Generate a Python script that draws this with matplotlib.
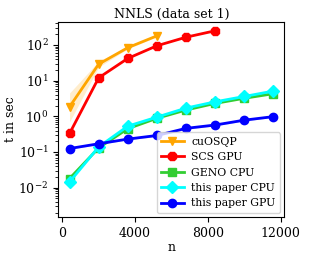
import matplotlib
matplotlib.use("Agg")
import matplotlib.pyplot as plt
import numpy as np

plt.rcParams['font.family'] = ['DejaVu Serif']

n_all = [400, 2000, 3600, 5200, 6800, 8400, 10000, 11600]
n_osqp = [400, 2000, 3600, 5200]
t_osqp = [1.85, 29, 84, 180]
t_osqp_lo = [0.7, 24, 78, 170]
t_osqp_hi = [4.5, 35, 92, 195]
n_scs = [400, 2000, 3600, 5200, 6800, 8400]
t_scs = [0.33, 12, 42, 95, 165, 250]
t_geno = [0.018, 0.13, 0.45, 0.88, 1.5, 2.3, 3.2, 4.3]
t_cpu = [0.0145, 0.139, 0.53, 0.95, 1.7, 2.55, 3.6, 5.1]
t_cpu_lo = [0.0135, 0.13, 0.5, 0.9, 1.6, 2.4, 3.4, 4.8]
t_cpu_hi = [0.0155, 0.15, 0.58, 1.02, 1.85, 2.75, 3.9, 5.5]
t_gpu = [0.125, 0.17, 0.23, 0.29, 0.46, 0.57, 0.78, 0.98]
t_gpu_lo = [0.12, 0.16, 0.22, 0.27, 0.43, 0.54, 0.74, 0.93]
t_gpu_hi = [0.13, 0.18, 0.245, 0.31, 0.49, 0.60, 0.82, 1.03]

fig = plt.figure(figsize=(3.1, 2.59), dpi=100)
ax = fig.add_axes([0.188, 0.162, 0.729, 0.753])

lw = 2
ms = 6
ax.fill_between(n_osqp, t_osqp_lo, t_osqp_hi, color='orange', alpha=0.2, lw=0)
ax.plot(n_osqp, t_osqp, color='orange', marker='v', lw=lw, ms=ms, label='cuOSQP')
ax.plot(n_scs, t_scs, color='red', marker='8', lw=lw, ms=ms, label='SCS GPU')
ax.plot(n_all, t_geno, color='limegreen', marker='s', lw=lw, ms=ms, label='GENO CPU')
ax.fill_between(n_all, t_cpu_lo, t_cpu_hi, color='cyan', alpha=0.2, lw=0)
ax.plot(n_all, t_cpu, color='cyan', marker='D', lw=lw, ms=ms, label='this paper CPU')
ax.fill_between(n_all, t_gpu_lo, t_gpu_hi, color='blue', alpha=0.2, lw=0)
ax.plot(n_all, t_gpu, color='blue', marker='o', lw=lw, ms=ms, label='this paper GPU')

ax.set_yscale('log')
ax.set_ylim(1.5e-3, 440)
ax.set_xlim(-220, 12200)
ax.set_xticks([0, 4000, 8000, 12000])
ax.tick_params(labelsize=9)
ax.set_title('NNLS (data set 1)', fontsize=9, pad=3)
ax.set_xlabel('n', fontsize=9, labelpad=1)
ax.set_ylabel('t in sec', fontsize=9, labelpad=1)
ax.legend(loc='lower right', fontsize=7.8, handlelength=2.1, borderpad=0.4,
          labelspacing=0.5, handletextpad=0.7, borderaxespad=0.4)

fig.savefig('out.png', dpi=100)
